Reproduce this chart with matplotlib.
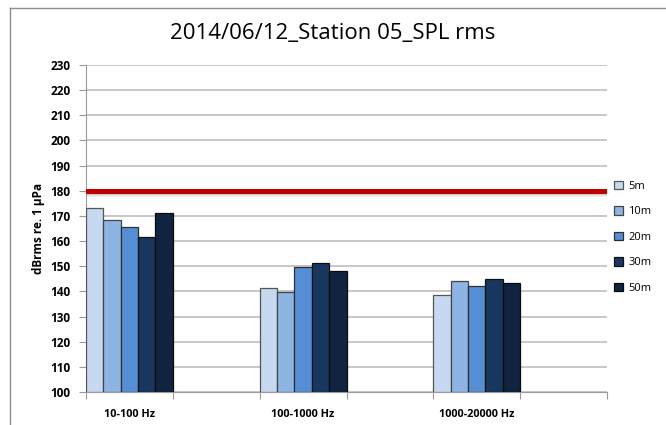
import numpy as np
import matplotlib.pyplot as plt

categories = ['10-100 Hz', '100-1000 Hz', '1000-20000 Hz']
series = ['5m', '10m', '20m', '30m', '50m']
spl_5m = [173.2, 141.3, 138.4]
spl_10m = [168.3, 139.8, 144.2]
spl_20m = [165.4, 149.5, 142.2]
spl_30m = [161.6, 151.1, 145.1]
spl_50m = [171.1, 148.0, 143.5]
threshold = 180

colors = ['#C6D9F1', '#8DB4E2', '#558ED5', '#17375E', '#10243F']
edges = ['#555555', '#444444', '#2e2e2e', '#111111', '#0a0a0a']

plt.rcParams['font.family'] = ['Open Sans', 'DejaVu Sans']

fig = plt.figure(figsize=(6.66, 4.25), dpi=100)
ax = fig.add_axes([86/666, 1-392/425, (607-86)/666, (392-65)/425])

# frame around chart area
fig.add_artist(plt.Line2D([10/666, 10/666], [0, 1-8/425], color='#8c8c8c', lw=1))
fig.add_artist(plt.Line2D([10/666, 1], [1-8/425, 1-8/425], color='#8c8c8c', lw=1))

# data sits in slots 0, 2, 4 of six
xpos = np.array([0, 2, 4])
w = 0.2
data = [spl_5m, spl_10m, spl_20m, spl_30m, spl_50m]
for i, vals in enumerate(data):
    ax.bar(xpos - 0.5 + w*(i+0.5), np.array(vals) - 100, bottom=100, width=w,
           color=colors[i], edgecolor=edges[i], linewidth=0.9, label=series[i], zorder=3)

# red limit line with a soft shadow
for k, a in enumerate([0.35, 0.25, 0.15, 0.08]):
    ax.axhline(threshold - 0.7 - 0.5*k, color='#888888', alpha=a, lw=1.6, zorder=2)
ax.axhline(threshold, color='#C00000', lw=3.6, zorder=4)

ax.set_xlim(-0.5, 5.5)
ax.set_ylim(100, 230)
ax.set_yticks(np.arange(100, 231, 10))
ax.yaxis.grid(True, color='#bdbdbd', lw=1.2)
ax.set_axisbelow(True)
ax.set_xticks(np.arange(-0.5, 5.6, 1))
ax.set_xticklabels([])
ax.set_xticks(xpos, categories, minor=True)
ax.tick_params(axis='x', which='minor', length=0, pad=12, labelsize=7.8)
ax.tick_params(axis='x', which='major', length=5, color='#9a9a9a')
ax.tick_params(axis='y', length=5, color='#9a9a9a', labelsize=8.5, pad=6)
for lab in ax.get_xticklabels(minor=True) + ax.get_yticklabels():
    lab.set_fontweight('bold')

for s in ['top', 'right']:
    ax.spines[s].set_visible(False)
ax.spines['left'].set_color('#9a9a9a')
ax.spines['bottom'].set_color('#9a9a9a')

ax.set_ylabel('dBrms re. 1 μPa', fontsize=8.5, fontweight='bold', labelpad=4)
fig.suptitle('2014/06/12_Station 05_SPL rms', fontsize=16, y=0.945)

ax.legend(loc='upper left', bbox_to_anchor=(1.005, 0.66), frameon=False,
          fontsize=8, handlelength=0.8, handleheight=0.8, labelspacing=1.3,
          handletextpad=0.5, borderaxespad=0)

fig.savefig('out.png', dpi=100)
